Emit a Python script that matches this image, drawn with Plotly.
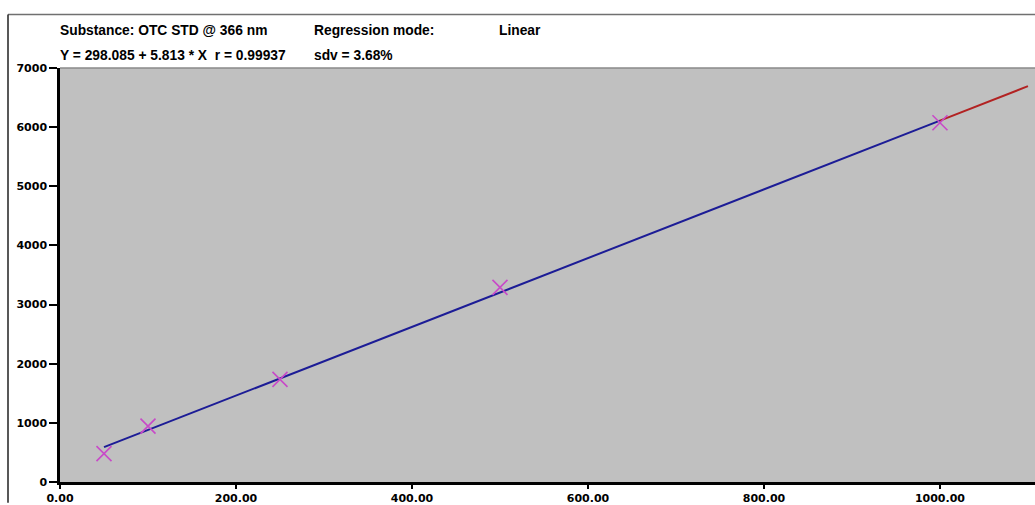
import plotly.graph_objects as go

# Calibration standards (concentration vs. peak area)
conc = [50, 100, 250, 500, 1000]
area = [480, 945, 1735, 3290, 6075]

# Linear regression reported for the calibration
intercept = 298.085
slope = 5.813
r_value = 0.99937
sdv_pct = 3.68

fit_x = [50, 1000]
extrap_x = [1000, 1100]

x_ticks = [0, 200, 400, 600, 800, 1000]
y_ticks = [0, 1000, 2000, 3000, 4000, 5000, 6000, 7000]

fig = go.Figure()

fig.add_trace(go.Scatter(
    x=fit_x, y=[intercept + slope * v for v in fit_x],
    mode="lines", line=dict(color="#1c1c96", width=2),
    hoverinfo="skip", showlegend=False,
))
fig.add_trace(go.Scatter(
    x=extrap_x, y=[intercept + slope * v for v in extrap_x],
    mode="lines", line=dict(color="#b22222", width=2),
    hoverinfo="skip", showlegend=False,
))
fig.add_trace(go.Scatter(
    x=conc, y=area, mode="markers",
    marker=dict(symbol="x-thin-open", size=15, color="#c84ac8",
                line=dict(color="#c84ac8", width=1.6)),
    showlegend=False,
))

head_font = dict(family="Liberation Sans, Arial, sans-serif", size=13.8,
                 color="#000000", weight="bold")
tick_font = dict(family="DejaVu Sans, Verdana, sans-serif", size=11,
                 color="#000000", weight="bold")


def px_x(px):
    return (px - 60) / 975


def px_y(py):
    return (485 - py) / 417


fig.update_layout(
    width=1035, height=505,
    margin=dict(l=60, r=0, t=68, b=20),
    paper_bgcolor="#ffffff",
    plot_bgcolor="#c0c0c0",
    xaxis=dict(
        range=[0, 1108], tickvals=x_ticks,
        ticktext=[f"{v:.2f}" for v in x_ticks],
        showgrid=False, zeroline=False,
        showline=True, linecolor="#000000", linewidth=2.5,
        ticks="outside", ticklen=4, tickwidth=1.5, tickcolor="#000000",
        tickfont=tick_font,
    ),
    yaxis=dict(
        range=[0, 7000], tickvals=y_ticks,
        showgrid=False, zeroline=False,
        showline=True, linecolor="#000000", linewidth=2.5,
        ticks="outside", ticklen=8, tickwidth=1.5, tickcolor="#000000",
        tickfont=tick_font,
    ),
    shapes=[
        # outer frame (top and left edges)
        dict(type="line", xref="paper", yref="paper",
             x0=px_x(8), x1=1.0, y0=px_y(14), y1=px_y(14),
             line=dict(color="#707070", width=1.5)),
        dict(type="line", xref="paper", yref="paper",
             x0=px_x(8), x1=px_x(8), y0=px_y(14), y1=px_y(506),
             line=dict(color="#202020", width=1.5)),
        # top edge of the plotting area
        dict(type="line", xref="paper", yref="paper",
             x0=0, x1=1, y0=1.0, y1=1.0,
             line=dict(color="#8a8a8a", width=1.5)),
    ],
    annotations=[
        dict(text="Substance: OTC STD @ 366 nm", x=px_x(58), y=px_y(30.5)),
        dict(text="Regression mode:", x=px_x(312), y=px_y(30.5)),
        dict(text="Linear", x=px_x(497), y=px_y(30.5)),
        dict(text=f"Y = {intercept} + {slope} * X \u00a0r = {r_value}",
             x=px_x(58), y=px_y(55)),
        dict(text=f"sdv = {sdv_pct}%", x=px_x(312), y=px_y(55)),
    ],
)
fig.update_annotations(xref="paper", yref="paper", xanchor="left",
                       yanchor="middle", showarrow=False, font=head_font)

fig.write_html("out.html")
